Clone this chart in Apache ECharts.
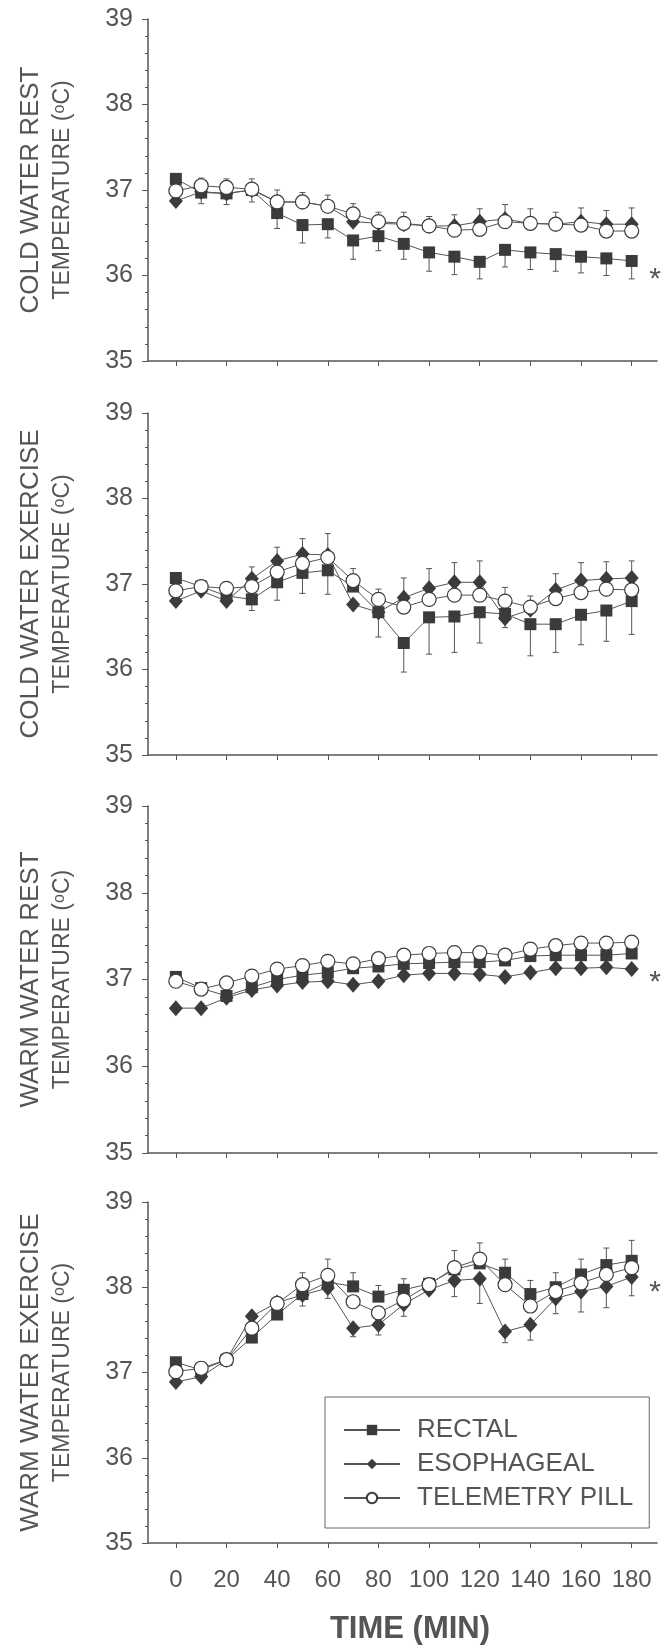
<!doctype html>
<html>
<head>
  <meta charset="utf-8">
  <title></title>
  <script src="https://cdn.jsdelivr.net/npm/echarts@6/dist/echarts.min.js"></script>
  <style>
    html, body { margin: 0; padding: 0; background: #fff; }
  </style>
</head>
<body>
  <div id="chart" style="width: 672px; height: 1646px;"></div>
  <script>
    // time points (min) and tick labels
    var times = [0, 10, 20, 30, 40, 50, 60, 70, 80, 90, 100, 110, 120, 130, 140, 150, 160, 170, 180];
    var timeTicks = [0, 20, 40, 60, 80, 100, 120, 140, 160, 180];
    var tempTicks = [35, 36, 37, 38, 39];
    var sensors = ['RECTAL', 'ESOPHAGEAL', 'TELEMETRY PILL'];

    // cold water rest
    var coldRestRectal = [37.13, 36.97, 36.96, 37.0, 36.73, 36.59, 36.6, 36.41, 36.46, 36.37, 36.27, 36.22, 36.16, 36.3, 36.27, 36.25, 36.22, 36.2, 36.17];
    var coldRestEsoph = [36.87, 36.98, 36.96, 37.0, 36.86, 36.86, 36.81, 36.63, 36.61, 36.6, 36.58, 36.58, 36.63, 36.66, 36.61, 36.6, 36.63, 36.6, 36.6];
    var coldRestPill = [36.99, 37.05, 37.03, 37.01, 36.86, 36.86, 36.81, 36.72, 36.63, 36.61, 36.58, 36.53, 36.54, 36.63, 36.61, 36.6, 36.59, 36.52, 36.52];
    var coldRestRectalSd = [0.05, 0.13, 0.13, 0.14, 0.18, 0.21, 0.16, 0.22, 0.17, 0.18, 0.22, 0.21, 0.2, 0.2, 0.2, 0.2, 0.19, 0.2, 0.21];
    var coldRestEsophSd = [0, 0.16, 0.17, 0.13, 0.14, 0.11, 0.13, 0.21, 0.13, 0.14, 0.11, 0.13, 0.15, 0.17, 0.17, 0.14, 0.16, 0.16, 0.19];

    // cold water exercise
    var coldExRectal = [37.07, 36.97, 36.86, 36.82, 37.02, 37.13, 37.16, 36.97, 36.67, 36.31, 36.61, 36.62, 36.67, 36.65, 36.53, 36.53, 36.64, 36.69, 36.8];
    var coldExEsoph = [36.8, 36.92, 36.8, 37.06, 37.27, 37.35, 37.34, 36.76, 36.67, 36.84, 36.95, 37.02, 37.02, 36.6, 36.7, 36.93, 37.04, 37.06, 37.07];
    var coldExPill = [36.92, 36.97, 36.95, 36.97, 37.14, 37.24, 37.31, 37.04, 36.82, 36.73, 36.82, 36.87, 36.87, 36.8, 36.73, 36.83, 36.9, 36.94, 36.93];
    var coldExRectalSd = [0, 0, 0, 0.13, 0.21, 0.24, 0.28, 0, 0.29, 0.34, 0.43, 0.42, 0.36, 0.16, 0.37, 0.33, 0.35, 0.36, 0.39];
    var coldExEsophSd = [0, 0, 0, 0.14, 0.16, 0.18, 0.25, 0, 0, 0.23, 0.23, 0.23, 0.25, 0, 0, 0.19, 0.21, 0.2, 0.2];
    var coldExPillSd = [0, 0, 0, 0, 0, 0, 0, 0.14, 0.12, 0, 0, 0, 0, 0.16, 0.13, 0, 0, 0, 0];

    // warm water rest
    var warmRestRectal = [37.03, 36.9, 36.81, 36.91, 37.0, 37.05, 37.08, 37.13, 37.15, 37.18, 37.19, 37.2, 37.2, 37.22, 37.27, 37.28, 37.28, 37.28, 37.3];
    var warmRestEsoph = [36.67, 36.67, 36.79, 36.88, 36.93, 36.97, 36.98, 36.94, 36.98, 37.05, 37.07, 37.07, 37.06, 37.03, 37.08, 37.13, 37.13, 37.14, 37.12];
    var warmRestPill = [36.98, 36.89, 36.96, 37.04, 37.12, 37.16, 37.21, 37.18, 37.24, 37.28, 37.3, 37.31, 37.31, 37.28, 37.35, 37.39, 37.42, 37.42, 37.43];

    // warm water exercise
    var warmExRectal = [37.12, 37.03, 37.15, 37.41, 37.68, 37.92, 38.06, 38.01, 37.89, 37.97, 38.04, 38.21, 38.28, 38.17, 37.92, 38.0, 38.15, 38.26, 38.31];
    var warmExEsoph = [36.89, 36.95, 37.15, 37.66, 37.82, 37.91, 37.99, 37.52, 37.56, 37.8, 37.97, 38.08, 38.1, 37.48, 37.56, 37.87, 37.95, 38.01, 38.12];
    var warmExPill = [37.01, 37.05, 37.15, 37.52, 37.81, 38.03, 38.14, 37.83, 37.7, 37.85, 38.03, 38.23, 38.33, 38.03, 37.78, 37.95, 38.05, 38.15, 38.23];
    var warmExRectalSd = [0, 0, 0, 0, 0, 0, 0, 0.16, 0.13, 0.13, 0.05, 0, 0, 0.16, 0.16, 0.17, 0.18, 0.2, 0.24];
    var warmExEsophSd = [0, 0, 0, 0, 0, 0.13, 0.12, 0.1, 0.12, 0.14, 0, 0.19, 0.29, 0.13, 0.18, 0.18, 0.24, 0.25, 0.22];
    var warmExPillSd = [0, 0, 0, 0, 0, 0.14, 0.19, 0, 0, 0, 0, 0.2, 0.19, 0, 0, 0, 0, 0, 0];

    var panels = [
      { title: 'COLD WATER REST', lines: [coldRestRectal, coldRestEsoph, coldRestPill],
        bars: [[coldRestRectal, coldRestRectalSd, -1], [coldRestEsoph, coldRestEsophSd, 1]], star: 275 },
      { title: 'COLD WATER EXERCISE', lines: [coldExRectal, coldExEsoph, coldExPill],
        bars: [[coldExRectal, coldExRectalSd, -1], [coldExEsoph, coldExEsophSd, 1], [coldExPill, coldExPillSd, 1]], star: null },
      { title: 'WARM WATER REST', lines: [warmRestRectal, warmRestEsoph, warmRestPill],
        bars: [], star: 978 },
      { title: 'WARM WATER EXERCISE', lines: [warmExRectal, warmExEsoph, warmExPill],
        bars: [[warmExRectal, warmExRectalSd, 1], [warmExEsoph, warmExEsophSd, -1], [warmExPill, warmExPillSd, 1]], star: 1288 }
    ];

    var gridTops = [19, 413, 806, 1202];
    var gridHeights = [342, 342, 347, 341];
    var FONT = '"Liberation Sans", Arial, sans-serif';
    var INK = '#555';
    var MARK = '#3b3b3b';

    var symbols = [
      { symbol: 'rect', symbolSize: 12, itemStyle: { color: MARK } },
      { symbol: 'diamond', symbolSize: [14, 16], itemStyle: { color: MARK } },
      { symbol: 'circle', symbolSize: 14, itemStyle: { color: '#fff', borderColor: MARK, borderWidth: 1.2 } }
    ];

    function errorSeries(p, values, sd, dir) {
      return {
        type: 'custom',
        xAxisIndex: p,
        yAxisIndex: p,
        z: 1,
        silent: true,
        data: times.map(function (t, i) { return [t, values[i], sd[i] * dir]; }),
        renderItem: function (params, api) {
          var x = api.value(0), y = api.value(1), e = api.value(2);
          if (!e) return { type: 'group', children: [] };
          var a = api.coord([x, y]);
          var b = api.coord([x, y + e]);
          return {
            type: 'group',
            children: [
              { type: 'line', shape: { x1: a[0], y1: a[1], x2: b[0], y2: b[1] }, style: { stroke: INK, lineWidth: 1 } },
              { type: 'line', shape: { x1: b[0] - 3, y1: b[1], x2: b[0] + 3, y2: b[1] }, style: { stroke: INK, lineWidth: 1 } }
            ]
          };
        }
      };
    }

    var grids = [], xAxes = [], yAxes = [], series = [], graphics = [];

    panels.forEach(function (pn, p) {
      grids.push({ left: 148, right: 15, top: gridTops[p], height: gridHeights[p] });
      xAxes.push({
        type: 'value', gridIndex: p, min: -11, max: 190,
        splitLine: { show: false },
        axisLine: { onZero: false, lineStyle: { color: INK, width: 1.5 } },
        axisTick: { show: true, customValues: timeTicks, length: 5, lineStyle: { color: INK } },
        axisLabel: {
          show: p === 3, customValues: timeTicks, margin: 25,
          fontSize: 24, fontFamily: FONT, color: INK
        }
      });
      yAxes.push({
        type: 'value', gridIndex: p, min: 35, max: 39, interval: 1,
        splitLine: { show: false },
        axisLine: { show: true, onZero: false, lineStyle: { color: INK, width: 1.5 } },
        axisTick: { show: true, length: 6, lineStyle: { color: INK } },
        minorTick: { show: true, splitNumber: 5, length: 3, lineStyle: { color: INK } },
        axisLabel: {
          margin: 15, fontSize: 25, fontFamily: FONT, color: INK,
          customValues: tempTicks
        }
      });

      pn.bars.forEach(function (b) {
        series.push(errorSeries(p, b[0], b[1], b[2]));
      });

      pn.lines.forEach(function (vals, s) {
        series.push({
          type: 'line',
          name: sensors[s],
          xAxisIndex: p,
          yAxisIndex: p,
          z: 2 + s,
          data: times.map(function (t, i) { return [t, vals[i]]; }),
          symbol: symbols[s].symbol,
          symbolSize: symbols[s].symbolSize,
          showAllSymbol: true,
          itemStyle: symbols[s].itemStyle,
          lineStyle: { color: INK, width: 1 },
          animation: false
        });
      });

      var midY = gridTops[p] + gridHeights[p] / 2;
      graphics.push({
        type: 'text', x: 31, y: midY, rotation: Math.PI / 2,
        style: {
          text: pn.title, fill: INK, font: '26px ' + FONT,
          align: 'center', verticalAlign: 'middle', textAlign: 'center', textVerticalAlign: 'middle'
        }
      });
      graphics.push({
        type: 'text', x: 63, y: midY, rotation: Math.PI / 2,
        style: {
          text: '{t|TEMPERATURE (}{s|o}{t|C)}', fill: INK,
          align: 'center', verticalAlign: 'middle', textAlign: 'center', textVerticalAlign: 'middle',
          rich: {
            t: { fontSize: 23, fontFamily: FONT, fill: INK, color: INK, verticalAlign: 'bottom' },
            s: { fontSize: 16, fontFamily: FONT, fill: INK, color: INK, verticalAlign: 'top' }
          }
        }
      });
      if (pn.star !== null) {
        graphics.push({
          type: 'text', x: 655, y: pn.star + 5,
          style: {
            text: '*', fill: INK, font: '30px ' + FONT,
            align: 'center', verticalAlign: 'middle', textAlign: 'center', textVerticalAlign: 'middle'
          }
        });
      }
    });

    var myChart = echarts.init(document.getElementById('chart'));
    option = {
      backgroundColor: '#fff',
      animation: false,
      title: {
        text: 'TIME (MIN)',
        left: 405,
        top: 1609,
        textAlign: 'center',
        textStyle: { fontSize: 31, fontWeight: 'bold', fontFamily: FONT, color: INK }
      },
      legend: {
        data: sensors,
        orient: 'vertical',
        left: 325,
        top: 1397,
        padding: [20, 16, 17, 18],
        itemGap: 8,
        itemWidth: 56,
        itemHeight: 13,
        borderColor: '#666',
        borderWidth: 1,
        textStyle: { fontSize: 26, fontFamily: FONT, color: INK, padding: [0, 0, 0, 12] }
      },
      grid: grids,
      xAxis: xAxes,
      yAxis: yAxes,
      series: series,
      graphic: graphics
    };
    myChart.setOption(option);
  </script>
</body>
</html>
